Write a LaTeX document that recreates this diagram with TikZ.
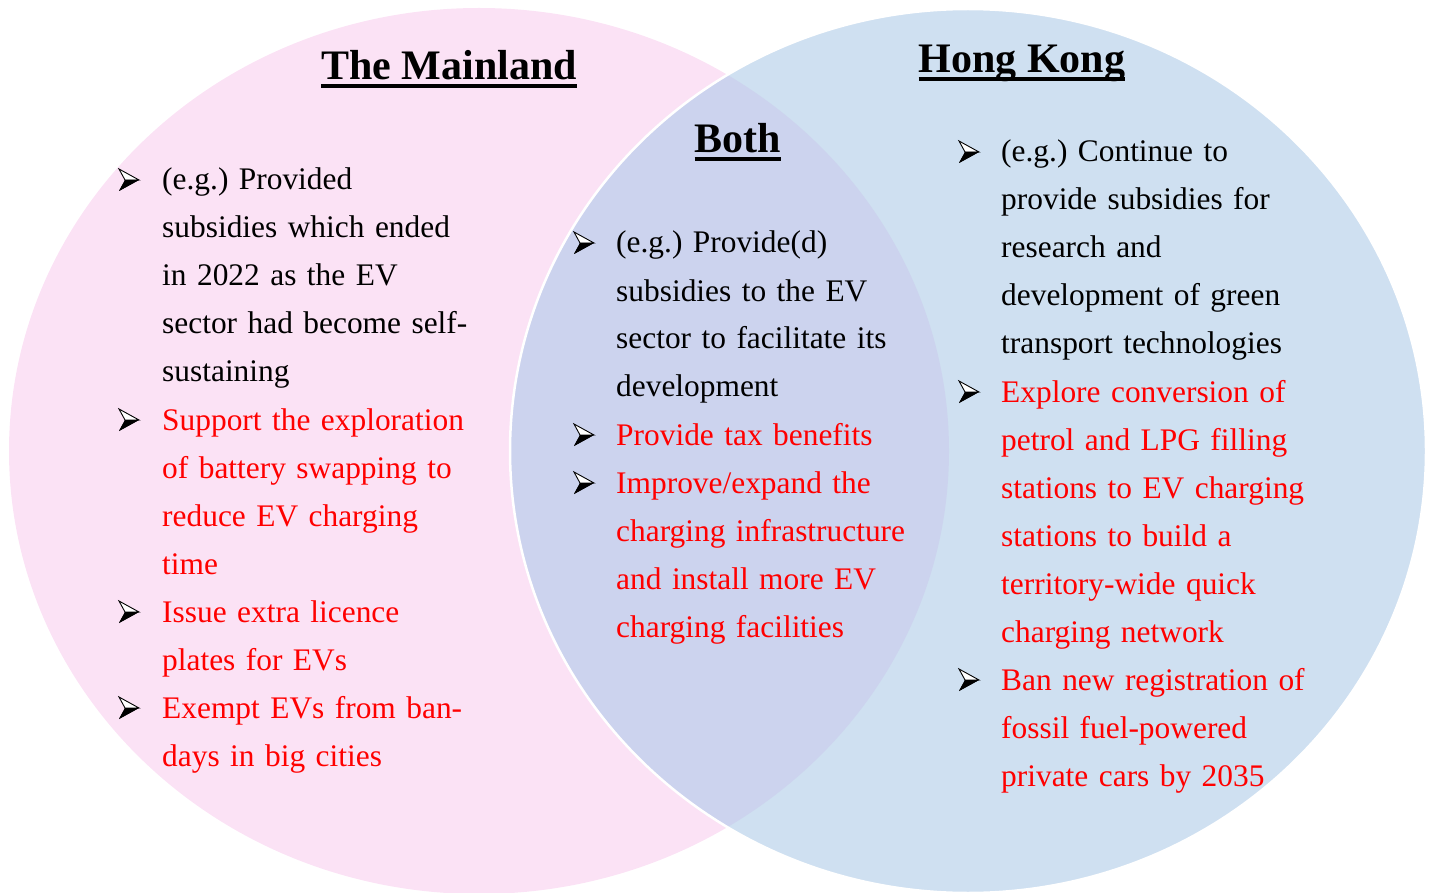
\documentclass[tikz,border=0pt]{standalone}
\usepackage{fontspec}
\setmainfont{Liberation Serif}
\frenchspacing
\definecolor{pinkfill}{RGB}{251,226,245}
\definecolor{bluefill}{RGB}{207,224,241}
\definecolor{bothfill}{RGB}{204,211,238}
\definecolor{txtred}{RGB}{255,0,0}
\tikzset{
  itembox/.style={anchor=base west, inner sep=0pt, text width=360pt, align=left,
    font=\fontsize{31.4}{48}\selectfont},
  headbox/.style={anchor=base, inner sep=0pt, font=\bfseries\fontsize{42}{42}\selectfont},
  ulinestyle/.style={line width=4pt},
  arrowbullet/.pic={
    \fill[black] (6,0) -- (20,0) -- (0,11) -- cycle;
    \filldraw[fill=white, draw=black, line width=0.9pt, line join=miter] (6,0) -- (0,-11) -- (20,0) -- cycle;
    \fill[black] (6,0) -- (20,0) -- (0,11) -- cycle;
  },
}
\begin{document}
\begin{tikzpicture}[x=1pt,y=-1pt]
\useasboundingbox (0,0) rectangle (1434,893);
% circles
\fill[pinkfill] (479,451) ellipse [x radius=470, y radius=443];
\fill[bluefill] (968,451) ellipse [x radius=458, y radius=442];
\begin{scope}
  \clip (479,451) ellipse [x radius=470, y radius=443];
  \fill[bothfill] (968,451) ellipse [x radius=458, y radius=442];
\end{scope}
\begin{scope}
  \clip (0,0) rectangle (1434,893);
  \draw[white, line width=2.5pt] (968,451) ellipse [x radius=458, y radius=442];
\end{scope}
% headings
\node[headbox] (hmain) at (449,80) {The Mainland};
\draw[ulinestyle] ([yshift=-6pt]hmain.base west) -- ([yshift=-6pt]hmain.base east);
\node[headbox] (hboth) at (738,153) {Both};
\draw[ulinestyle] ([yshift=-6pt]hboth.base west) -- ([yshift=-6pt]hboth.base east);
\node[headbox] (hhk) at (1022,73) {Hong Kong};
\draw[ulinestyle] ([yshift=-6pt]hhk.base west) -- ([yshift=-6pt]hhk.base east);
% left column
\pic at (119,180) {arrowbullet};
\node[itembox] (l1) at (162,190) {(e.g.) Provided\\subsidies which ended\\in 2022 as the EV\\sector had become self-\\sustaining};
\pic at (119,420) {arrowbullet};
\node[itembox, text=txtred] (l2) at (162,430) {Support the exploration\\of battery swapping to\\reduce EV charging\\time};
\pic at (119,612) {arrowbullet};
\node[itembox, text=txtred] (l3) at (162,622) {Issue extra licence\\plates for EVs};
\pic at (119,708) {arrowbullet};
\node[itembox, text=txtred] (l4) at (162,718) {Exempt EVs from ban-\\days in big cities};
% middle column
\pic at (574,243) {arrowbullet};
\node[itembox] (m1) at (616,253) {(e.g.) Provide(d)\\subsidies to the EV\\sector to facilitate its\\development};
\pic at (574,435) {arrowbullet};
\node[itembox, text=txtred] (m2) at (616,445) {Provide tax benefits};
\pic at (574,483) {arrowbullet};
\node[itembox, text=txtred] (m3) at (616,493) {Improve/expand the\\charging infrastructure\\and install more EV\\charging facilities};
% right column
\pic at (959,152) {arrowbullet};
\node[itembox] (r1) at (1001,162) {(e.g.) Continue to\\provide subsidies for\\research and\\development of green\\transport technologies};
\pic at (959,392) {arrowbullet};
\node[itembox, text=txtred] (r2) at (1001,402) {Explore conversion of\\petrol and LPG filling\\stations to EV charging\\stations to build a\\territory-wide quick\\charging network};
\pic at (959,680) {arrowbullet};
\node[itembox, text=txtred] (r3) at (1001,690) {Ban new registration of\\fossil fuel-powered\\private cars by 2035};
\end{tikzpicture}
\end{document}
